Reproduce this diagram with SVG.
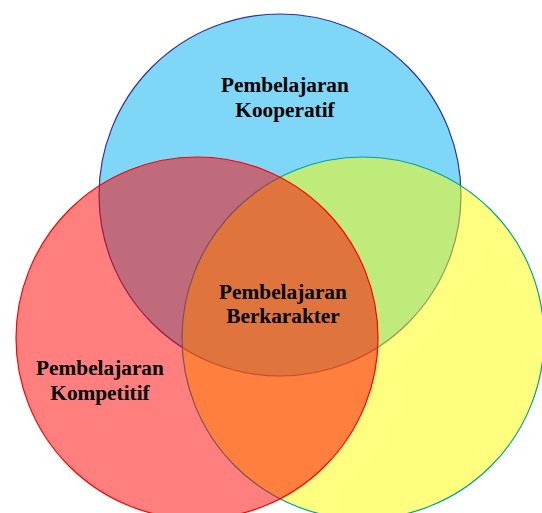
<svg xmlns="http://www.w3.org/2000/svg" width="542" height="513" viewBox="0 0 542 513">
<style>
.lbl{font-family:"Liberation Serif","Times New Roman",serif;font-weight:bold;font-size:21.3px;fill:#000;text-anchor:middle}
</style>
<rect width="542" height="513" fill="#fff"/>
<g id="kooperatif">
<circle cx="280" cy="195" r="181" fill="#00B0F0" fill-opacity="0.5" stroke="#3030A0" stroke-width="1.2"/>
</g>
<g id="kompetitif-yellow">
<circle cx="363" cy="338" r="181" fill="#FFFF00" fill-opacity="0.5" stroke="#00A0A0" stroke-width="1.2"/>
</g>
<g id="kompetitif">
<circle cx="197" cy="338" r="181" fill="#FF0000" fill-opacity="0.5" stroke="#FF0000" stroke-width="1.2"/>
</g>
<g id="labels">
<text class="lbl" x="285" y="91.5">Pembelajaran</text>
<text class="lbl" x="285" y="117">Kooperatif</text>
<text class="lbl" x="100" y="375">Pembelajaran</text>
<text class="lbl" x="100" y="400">Kompetitif</text>
<text class="lbl" x="283" y="298.5">Pembelajaran</text>
<text class="lbl" x="283" y="323">Berkarakter</text>
</g>
<g id="connectors"></g>
</svg>
